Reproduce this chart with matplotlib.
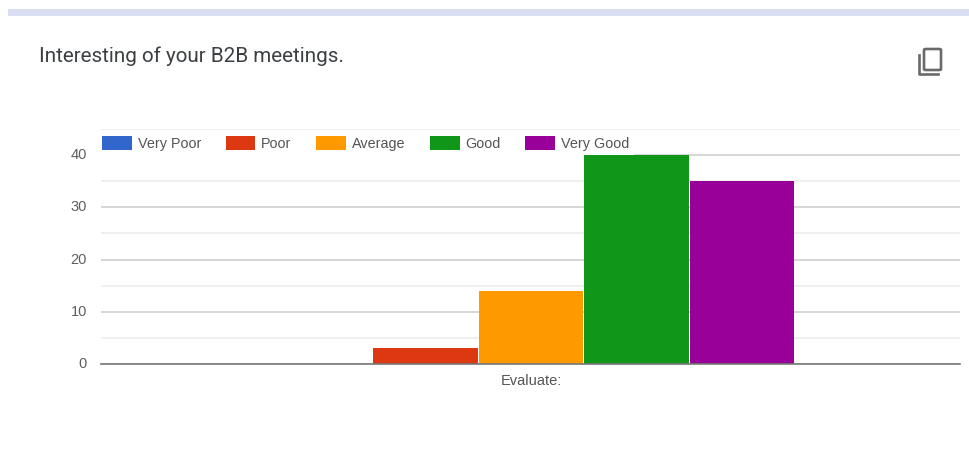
#!/usr/bin/python3
import matplotlib as mpl
mpl.use('Agg')
import matplotlib.pyplot as plt
from matplotlib.patches import FancyBboxPatch, Rectangle
from matplotlib.transforms import ScaledTranslation

categories = ['Evaluate:']
series_names = ['Very Poor', 'Poor', 'Average', 'Good', 'Very Good']
series_values = [0, 3, 14, 40, 35]
series_colors = ['#3366cc', '#dc3912', '#ff9900', '#109618', '#990099']
y_ticks = [0, 10, 20, 30, 40]
y_minor = [5, 15, 25, 35, 45]

W, H = 969, 450

def fx(px):
    return px / W

def fy(px):
    return 1 - px / H

fig = plt.figure(figsize=(W / 100, H / 100), dpi=100, facecolor='#ffffff')

# lavender strip at the top of the card
fig.add_artist(Rectangle((fx(8), fy(16)), fx(961), 7 / H, transform=fig.transFigure,
                         facecolor='#d9dff0', edgecolor='none'))
fig.text(fx(39), fy(56), 'Interesting of your B2B meetings.', fontsize=14.85,
         family='Roboto', color='#3c4043', va='center', ha='left')

# copy icon
fig.add_artist(FancyBboxPatch((fx(924), fy(70)), 17 / W, 21 / H, boxstyle='round,pad=0,rounding_size=0.002',
                              transform=fig.transFigure, facecolor='none', edgecolor='#6a6a6a', linewidth=1.9))
fig.add_artist(plt.Line2D([fx(919), fx(919), fx(938)], [fy(55), fy(74), fy(74)],
                          transform=fig.transFigure, color='#6a6a6a', linewidth=1.9))

ax = fig.add_axes([fx(101), fy(364), fx(859), 235 / H])
x0 = 0
for i, (name, val, col) in enumerate(zip(series_names, series_values, series_colors)):
    ax.bar(x0 + i - 2, val, width=0.99, color=col, label=name, zorder=3)

ax.set_xlim(-4.075, 4.065)
ax.set_ylim(0, 45)
ax.set_xticks([x0])
ax.set_xticklabels(categories)
ax.set_yticks(y_ticks)
ax.set_yticks(y_minor, minor=True)
ax.grid(axis='y', which='major', color='#d0d0d0', linewidth=1.2, zorder=0)
ax.grid(axis='y', which='minor', color='#ececec', linewidth=1.2, zorder=0)
ax.tick_params(axis='both', which='both', length=0)
ax.tick_params(axis='y', pad=10, labelsize=10.5, labelcolor='#5f5f5f')
ax.tick_params(axis='x', pad=7.5, labelsize=10.5, labelcolor='#555555')
for lab in ax.get_xticklabels() + ax.get_yticklabels():
    lab.set_family('Liberation Sans')
# tick labels sit slightly above their gridlines
up = ScaledTranslation(0, 1.5 / 100, fig.dpi_scale_trans)
for lab in ax.get_yticklabels():
    lab.set_transform(lab.get_transform() + up)
for s in ['top', 'right', 'left']:
    ax.spines[s].set_visible(False)
ax.spines['bottom'].set_color('#777777')
ax.spines['bottom'].set_linewidth(1.2)
ax.spines['bottom'].set_zorder(5)

leg = ax.legend(ncol=5, loc='upper left', bbox_to_anchor=(-4 / 859, 233 / 235),
                frameon=True, framealpha=1, facecolor='#ffffff', edgecolor='none',
                fancybox=False, borderaxespad=0, borderpad=0.35, handlelength=2.05,
                handleheight=1.1, handletextpad=0.42, columnspacing=1.7,
                prop={'family': 'Liberation Sans', 'size': 10.4})
leg.set_zorder(2)
for t in leg.get_texts():
    t.set_color('#555555')

fig.savefig('out.png', dpi=100)
